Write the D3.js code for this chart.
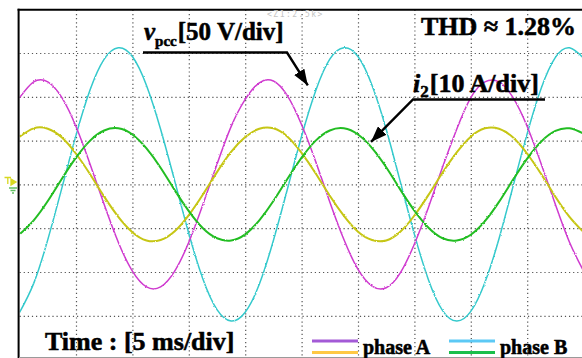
<!DOCTYPE html>
<html>
<head>
<meta charset="utf-8">
<script src="https://cdn.jsdelivr.net/npm/d3@7"></script>
<style>
  body { margin: 0; background: #fff; }
  svg { display: block; }
  .lbl { font-family: "Liberation Serif", "Times New Roman", serif; font-weight: bold; fill: #000;
         stroke: #000; stroke-width: 0.55px; }
</style>
</head>
<body>
<svg id="scope"></svg>
<script>
// sample times (ms), one sample every quarter division (1.25 ms)
const timeMs = d3.range(0, 50.01, 1.25);

// v_pcc phase A / phase B (V)
const vpccA = [99, 117, 117, 99, 66, 23, -23, -66, -99, -117, -117, -99, -66, -23, 23, 66,
  97, 116, 118, 101, 68, 26, -20, -63, -97, -116, -118, -101, -68, -26, 20, 63,
  99, 117, 117, 99, 66, 23, -23, -66, -99];
const vpccB = [-146, -113, -63, -4, 56, 108, 143, 156, 146, 113, 63, 4, -56, -108, -143, -156,
  -146, -114, -64, -5, 55, 107, 143, 156, 146, 113, 63, 3, -57, -109, -144, -156,
  -145, -112, -62, -2, 58, 110, 145, 156, 144];

// i2 phase A / phase B (A)
const i2A = [10.9, 12.8, 12.7, 10.7, 7.0, 2.3, -2.8, -7.4, -10.9, -12.8, -12.7, -10.7, -7.0, -2.3, 2.8, 7.4,
  10.8, 12.7, 12.8, 10.9, 7.2, 2.5, -2.6, -7.2, -10.8, -12.7, -12.8, -10.8, -7.1, -2.4, 2.7, 7.3,
  10.9, 12.8, 12.7, 10.7, 7.0, 2.3, -2.8, -7.4, -10.9];
const i2B = [-11.4, -8.2, -3.8, 1.3, 6.1, 10.0, 12.3, 12.8, 11.4, 8.2, 3.8, -1.3, -6.1, -10.0, -12.3, -12.8,
  -11.4, -8.2, -3.8, 1.3, 6.1, 10.0, 12.3, 12.8, 11.4, 8.3, 3.9, -1.2, -6.0, -9.9, -12.3, -12.8,
  -11.5, -8.4, -4.0, 1.1, 5.9, 9.8, 12.2, 12.8, 11.6];

// grid divisions (5 ms/div, 50 V/div, 10 A/div)
const timeTicks = [5, 10, 15, 20, 25, 30, 35, 40, 45];
const voltTicks = [-150, -100, -50, 0, 50, 100, 150];

const W = 582, H = 358;
const plot = { left: 19.6, right: 583.6, top: 9.2, bottom: 359.6 };

const svg = d3.select("#scope").attr("width", W).attr("height", H);

const x = d3.scaleLinear().domain([0, 50]).range([plot.left, plot.right]);
const yV = d3.scaleLinear().domain([-200, 200]).range([plot.bottom, plot.top]);
const yA = d3.scaleLinear().domain([-40, 40]).range([plot.bottom, plot.top]);

const defs = svg.append("defs");
defs.append("clipPath").attr("id", "clip")
  .append("rect")
  .attr("x", plot.left).attr("y", plot.top)
  .attr("width", plot.right - plot.left).attr("height", plot.bottom - plot.top);

// a little jitter so the traces look sampled
const f = defs.append("filter").attr("id", "rough")
  .attr("x", "-2%").attr("y", "-2%").attr("width", "104%").attr("height", "104%");
f.append("feTurbulence").attr("type", "fractalNoise").attr("baseFrequency", 0.9)
  .attr("numOctaves", 1).attr("seed", 4).attr("result", "n");
f.append("feDisplacementMap").attr("in", "SourceGraphic").attr("in2", "n")
  .attr("scale", 2.4).attr("xChannelSelector", "R").attr("yChannelSelector", "G");

defs.append("marker").attr("id", "head")
  .attr("viewBox", "0 0 16 12").attr("refX", 16).attr("refY", 6)
  .attr("markerWidth", 16).attr("markerHeight", 12)
  .attr("markerUnits", "userSpaceOnUse").attr("orient", "auto")
  .append("path").attr("d", "M0,0 L16,6 L0,12 Z").attr("fill", "#000");

// dotted grid
const gridH = plot.bottom - plot.top;
const gx = svg.append("g")
  .attr("transform", "translate(0," + plot.bottom + ")")
  .call(d3.axisBottom(x).tickValues(timeTicks).tickSizeInner(-gridH).tickFormat(""));
const gy = svg.append("g")
  .attr("transform", "translate(" + plot.left + ",0)")
  .call(d3.axisLeft(yV).tickValues(voltTicks).tickSizeInner(-(plot.right - plot.left)).tickFormat(""));
[gx, gy].forEach(g => {
  g.select(".domain").remove();
  g.selectAll("line")
    .attr("stroke", "#555")
    .attr("stroke-width", 1.2)
    .attr("stroke-dasharray", "1.2,2.9");
});

// traces
const traces = [
  { vals: vpccB, y: yV, color: "#34c9cc", w: 1.5 },
  { vals: vpccA, y: yV, color: "#cf3acf", w: 1.5 },
  { vals: i2A, y: yA, color: "#c6c613", w: 2 },
  { vals: i2B, y: yA, color: "#22bd22", w: 2 }
];

const tg = svg.append("g").attr("clip-path", "url(#clip)")
  .append("g").attr("filter", "url(#rough)");

traces.forEach(s => {
  const line = d3.line()
    .x((d, i) => x(timeMs[i]))
    .y(d => s.y(d))
    .curve(d3.curveNatural);
  tg.append("path")
    .datum(s.vals)
    .attr("fill", "none")
    .attr("stroke", s.color)
    .attr("stroke-width", s.w)
    .attr("d", line);
});

// frame
svg.append("line").attr("x1", 18.6).attr("x2", 18.6).attr("y1", 8.7).attr("y2", H)
  .attr("stroke", "#000").attr("stroke-width", 2);
svg.append("line").attr("x1", 17.6).attr("x2", W).attr("y1", 9.7).attr("y2", 9.7)
  .attr("stroke", "#000").attr("stroke-width", 2);
svg.append("line").attr("x1", 19).attr("x2", W).attr("y1", 357.5).attr("y2", 357.5)
  .attr("stroke", "#9a9a9a").attr("stroke-width", 1);

// channel / ground marker on the left
const mk = svg.append("g").attr("stroke", "#d8d820").attr("fill", "none").attr("stroke-width", 1.3);
mk.append("path").attr("d", "M4.5,177.5 H11 M7.8,177.5 V184");
mk.append("path").attr("d", "M11,179 L16,182 L11,185 Z").attr("fill", "#d8d820");
mk.append("path").attr("d", "M9,188 H17 M10.5,190.5 H15.5 M12,193 H14").attr("stroke", "#60c060");

// zoom readout
svg.append("text").attr("x", 267).attr("y", 17)
  .style("font-family", "DejaVu Sans Mono, monospace").style("font-size", "8px")
  .style("letter-spacing", "1.5px").attr("fill", "#c4c4c4")
  .text("<Z1:2.5k>");

// annotations
const ann = svg.append("g");
const tipV = { t: 25.55, v: 113 };
const tipI = { t: 31.15, a: 9.7 };

ann.append("path")
  .attr("d", "M143,52.5 H287 L" + x(tipV.t) + "," + yV(tipV.v))
  .attr("fill", "none").attr("stroke", "#000").attr("stroke-width", 2.4)
  .attr("marker-end", "url(#head)");
ann.append("path")
  .attr("d", "M545,99.5 H413 L" + x(tipI.t) + "," + yA(tipI.a))
  .attr("fill", "none").attr("stroke", "#000").attr("stroke-width", 2.4)
  .attr("marker-end", "url(#head)");

const tv = ann.append("text").attr("class", "lbl").attr("x", 144).attr("y", 40).style("font-size", "25px");
tv.append("tspan").style("font-style", "italic").text("v");
tv.append("tspan").attr("dy", 6).style("font-size", "15px").text("pcc");
tv.append("tspan").attr("dy", -6).attr("dx", 1).text("[50 V/div]");

const ti = ann.append("text").attr("class", "lbl").attr("x", 413).attr("y", 92).style("font-size", "26px");
ti.append("tspan").style("font-style", "italic").text("i");
ti.append("tspan").attr("dy", 5).style("font-size", "17px").text("2");
ti.append("tspan").attr("dy", -5).attr("dx", 1).text("[10 A/div]");

ann.append("text").attr("class", "lbl").attr("x", 421).attr("y", 35)
  .style("font-size", "26px").text("THD \u2248 1.28%");

ann.append("text").attr("class", "lbl").attr("x", 45).attr("y", 350)
  .style("font-size", "26px").text("Time : [5 ms/div]");

// legend
const legend = [
  { name: "phase A", x: 312, c1: "#a35ad6", c2: "#ffc844" },
  { name: "phase B", x: 449, c1: "#5cc9f5", c2: "#19bf4b" }
];
legend.forEach(d => {
  svg.append("line").attr("x1", d.x).attr("x2", d.x + 46).attr("y1", 341).attr("y2", 341)
    .attr("stroke", d.c1).attr("stroke-width", 3);
  svg.append("line").attr("x1", d.x).attr("x2", d.x + 46).attr("y1", 352.5).attr("y2", 352.5)
    .attr("stroke", d.c2).attr("stroke-width", 3);
  svg.append("text").attr("class", "lbl").attr("x", d.x + 51).attr("y", 353.5)
    .style("font-size", "20px").text(d.name);
});
</script>
</body>
</html>
